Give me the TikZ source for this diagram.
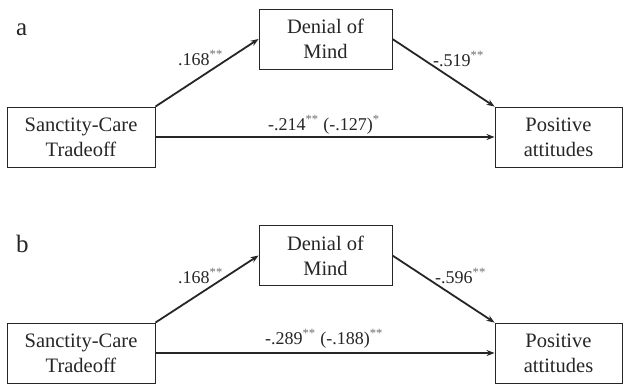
\documentclass[tikz,border=0pt]{standalone}
\usepackage{fontspec}
\setmainfont{Liberation Serif}
\usetikzlibrary{arrows.meta}
\definecolor{ink}{HTML}{262626}
\definecolor{starc}{HTML}{6E6E6E}
\newcommand\sg[1]{\textsuperscript{\color{starc}#1}}
\tikzset{
  var/.style={draw=ink, line width=0.9pt, minimum width=#1, minimum height=60pt,
    inner sep=0pt, align=center, text=ink,
    font=\fontsize{20.5}{25}\selectfont},
  var/.default=148pt,
  path/.style={draw=ink, line width=1.8pt, -{Stealth[length=8pt,width=6pt]}},
  coef/.style={anchor=base west, inner sep=0pt, text=ink,
    font=\fontsize{18}{20}\selectfont},
  panel/.style={anchor=base west, inner sep=0pt, text=ink,
    font=\fontsize{25}{28}\selectfont}
}
\begin{document}
\begin{tikzpicture}[x=1pt, y=-1pt]
  \clip (0,0) rectangle (623,383);
  \fill[white] (0,0) rectangle (623,383);

  % panel a
  \node[panel] (la) at (16,35) {a};
  \node[var=148pt] (sca) at (81,137) {Sanctity-Care\\Tradeoff};
  \node[var=133pt] (dena) at (325.5,39) {Denial of\\Mind};
  \node[var=127pt] (posa) at (558.5,137) {Positive\\attitudes};
  \draw[path] (sca.north east) -- (dena.west);
  \draw[path] (dena.east) -- (posa.north west);
  \draw[path] (sca.east) -- (posa.west);
  \node[coef] (ca1) at (178,65) {.168\sg{**}};
  \node[coef] (ca2) at (433,66) {-.519\sg{**}};
  \node[coef] (ca3) at (268,130) {-.214\sg{**} (-.127)\sg{*}};

  % panel b
  \node[panel] (lb) at (16,252) {b};
  \node[var=148pt] (scb) at (81,353) {Sanctity-Care\\Tradeoff};
  \node[var=133pt] (denb) at (325.5,255.5) {Denial of\\Mind};
  \node[var=127pt] (posb) at (558.5,353) {Positive\\attitudes};
  \draw[path] (scb.north east) -- (denb.west);
  \draw[path] (denb.east) -- (posb.north west);
  \draw[path] (scb.east) -- (posb.west);
  \node[coef] (cb1) at (178,283) {.168\sg{**}};
  \node[coef] (cb2) at (435,283) {-.596\sg{**}};
  \node[coef] (cb3) at (265,344) {-.289\sg{**} (-.188)\sg{**}};
\end{tikzpicture}
\end{document}
